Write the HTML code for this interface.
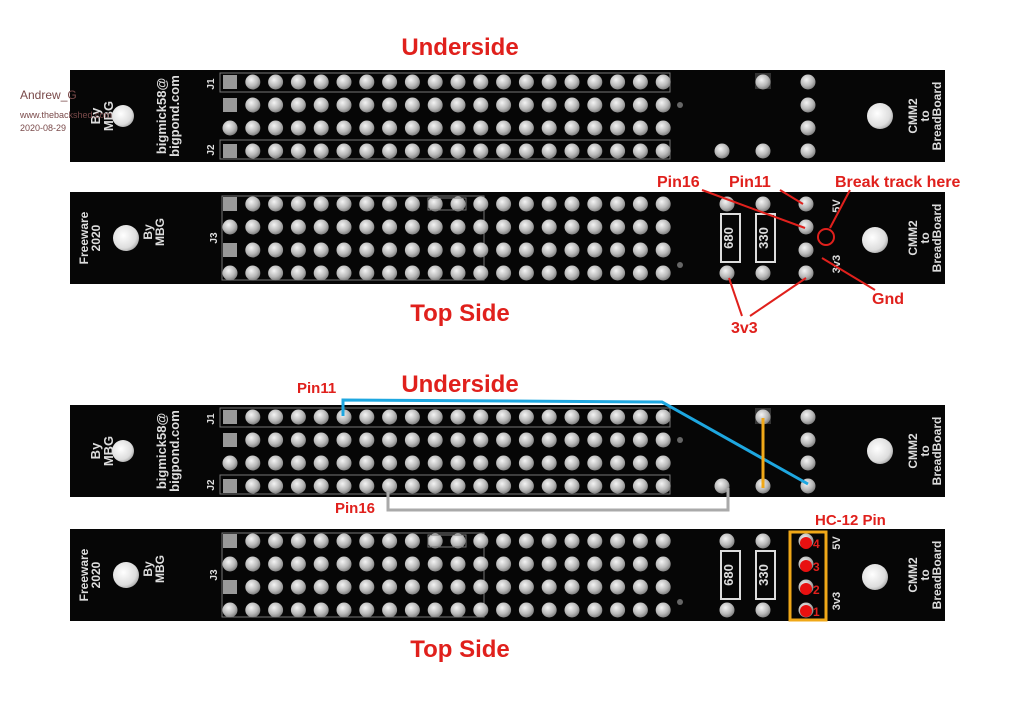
<!DOCTYPE html>
<html><head><meta charset="utf-8"><style>
html,body{margin:0;padding:0;background:#fff;width:1024px;height:708px;overflow:hidden}
svg{display:block}
.t{font-family:"Liberation Sans",sans-serif;font-weight:bold;fill:#e0201c}
.w{font-family:"Liberation Sans",sans-serif;font-weight:bold;fill:#ddd}
</style></head><body>
<svg id="s" width="1024" height="708" viewBox="0 0 1024 708" xmlns="http://www.w3.org/2000/svg">
<defs>
<radialGradient id="pg" cx="0.4" cy="0.35" r="0.7"><stop offset="0" stop-color="#f4f4f4"/><stop offset="0.6" stop-color="#b8b8b8"/><stop offset="1" stop-color="#777"/></radialGradient>
<radialGradient id="hg" cx="0.4" cy="0.4" r="0.7"><stop offset="0" stop-color="#fff"/><stop offset="0.7" stop-color="#ddd"/><stop offset="1" stop-color="#999"/></radialGradient>
</defs>
<g id="boards"></g>
<text class="t" x="460" y="55" font-size="24" text-anchor="middle">Underside</text>
<text class="t" x="460" y="321" font-size="24" text-anchor="middle">Top Side</text>
<text class="t" x="460" y="392" font-size="24" text-anchor="middle">Underside</text>
<text class="t" x="460" y="657" font-size="24" text-anchor="middle">Top Side</text>
<text x="20" y="99" font-family="Liberation Sans,sans-serif" font-size="12" fill="#7a4a4a">Andrew_G</text>
<text x="20" y="118" font-family="Liberation Sans,sans-serif" font-size="9" fill="#7a4a4a">www.thebackshed.com</text>
<text x="20" y="131" font-family="Liberation Sans,sans-serif" font-size="9" fill="#7a4a4a">2020-08-29</text>
<g stroke="#e0201c" stroke-width="2" fill="none">
<line x1="702" y1="190" x2="805" y2="228"/>
<line x1="780" y1="190" x2="803" y2="204"/>
<line x1="850" y1="190" x2="830" y2="228"/>
<circle cx="826" cy="237" r="8"/>
<line x1="875" y1="290" x2="822" y2="258"/>
<line x1="742" y1="316" x2="729" y2="278"/>
<line x1="750" y1="316" x2="806" y2="278"/>
</g>
<text class="t" x="657" y="187" font-size="16">Pin16</text>
<text class="t" x="729" y="187" font-size="16">Pin11</text>
<text class="t" x="835" y="187" font-size="16">Break track here</text>
<text class="t" x="872" y="304" font-size="16">Gnd</text>
<text class="t" x="731" y="333" font-size="16">3v3</text>
<polyline points="343,416 343,400 662,402 808,484" stroke="#1ea7e0" stroke-width="3" fill="none"/>
<polyline points="388,492 388,510 728,510 728,488" stroke="#aaa" stroke-width="3" fill="none"/>
<line x1="763" y1="418" x2="763" y2="488" stroke="#f0a818" stroke-width="3"/>
<text class="t" x="297" y="393" font-size="15">Pin11</text>
<text class="t" x="335" y="513" font-size="15">Pin16</text>
<text class="t" x="815" y="525" font-size="15">HC-12 Pin</text>
<rect x="790" y="532" width="36" height="88" fill="none" stroke="#f0a818" stroke-width="3"/>
<g fill="#e81010"><circle cx="806" cy="543" r="6"/><circle cx="806" cy="566" r="6"/><circle cx="806" cy="589" r="6"/><circle cx="806" cy="611" r="6"/></g>
<g class="t" font-size="12"><text x="813" y="548">4</text><text x="813" y="571">3</text><text x="813" y="594">2</text><text x="813" y="616">1</text></g>
</svg>
<script>
var NS="http://www.w3.org/2000/svg",g=document.getElementById('boards');
function el(t,a,p){var e=document.createElementNS(NS,t);for(var k in a)e.setAttribute(k,a[k]);(p||g).appendChild(e);return e}
function txt(x,y,lines,fs){var t=el('text',{x:x,y:y,'class':'w','font-size':fs,'text-anchor':'middle',transform:'rotate(-90 '+x+' '+y+')'});
 lines.forEach(function(l,i){var s=el('tspan',{x:x,dy:i?fs:0},t);s.textContent=l;});}
function pin(x,y){el('circle',{cx:x,cy:y,r:7.5,fill:'url(#pg)'})}
function sq(x,y){el('rect',{x:x-7,y:y-7,width:14,height:14,fill:'#999'})}
function board(y0,under){
 el('rect',{x:70,y:y0,width:875,height:92,fill:'#060606'});
 var rows=[y0+12,y0+35,y0+58,y0+81];
 if(under){
  el('rect',{x:220,y:y0+3,width:450,height:19,fill:'none',stroke:'#777','stroke-width':1});
  el('rect',{x:220,y:y0+70,width:450,height:19,fill:'none',stroke:'#777','stroke-width':1});
 } else {
  el('rect',{x:222,y:y0+4,width:262,height:84,fill:'none',stroke:'#777','stroke-width':1});
 }
 for(var r=0;r<4;r++)for(var i=0;i<20;i++){var x=230+i*22.8;
  if(i==0&&(under?r!=2:(r==0||r==2)))sq(x,rows[r]);else pin(x,rows[r]);}
 el('circle',{cx:680,cy:rows[1]+(under?0:38),r:3,fill:'#666'});
 if(under){
  el('circle',{cx:123,cy:y0+46,r:11,fill:'url(#hg)'});
  txt(100,y0+46,['By','MBG'],13);
  txt(166,y0+46,['bigmick58@','bigpond.com'],13);
  txt(214,y0+14,['J1'],10);txt(214,y0+80,['J2'],10);
  el('rect',{x:755,y:y0+3,width:16,height:16,fill:'#333'});
  pin(722,rows[3]);pin(763,rows[3]);pin(763,rows[0]);
  for(var r=0;r<4;r++)pin(808,rows[r]);
  el('circle',{cx:880,cy:y0+46,r:13,fill:'url(#hg)'});
 } else {
  el('circle',{cx:126,cy:y0+46,r:13,fill:'url(#hg)'});
  txt(88,y0+46,['Freeware','2020'],12);
  txt(152,y0+40,['By','MBG'],12);
  txt(217,y0+46,['J3'],10);
  el('rect',{x:428,y:y0+6,width:38,height:12,fill:'none',stroke:'#777'});
  pin(727,rows[0]);pin(727,rows[3]);pin(763,rows[0]);pin(763,rows[3]);
  el('rect',{x:721,y:y0+22,width:19,height:48,fill:'none',stroke:'#ddd','stroke-width':2});
  el('rect',{x:756,y:y0+22,width:19,height:48,fill:'none',stroke:'#ddd','stroke-width':2});
  txt(733,y0+46,['680'],13);txt(768,y0+46,['330'],13);
  for(var r=0;r<4;r++)pin(806,rows[r]);
  txt(840,y0+14,['5V'],11);txt(840,y0+72,['3v3'],11);
  el('circle',{cx:875,cy:y0+48,r:13,fill:'url(#hg)'});
 }
 txt(917,y0+46,['CMM2','to','BreadBoard'],12);
}
board(70,true);board(192,false);board(405,true);board(529,false);
</script>
</body></html>
